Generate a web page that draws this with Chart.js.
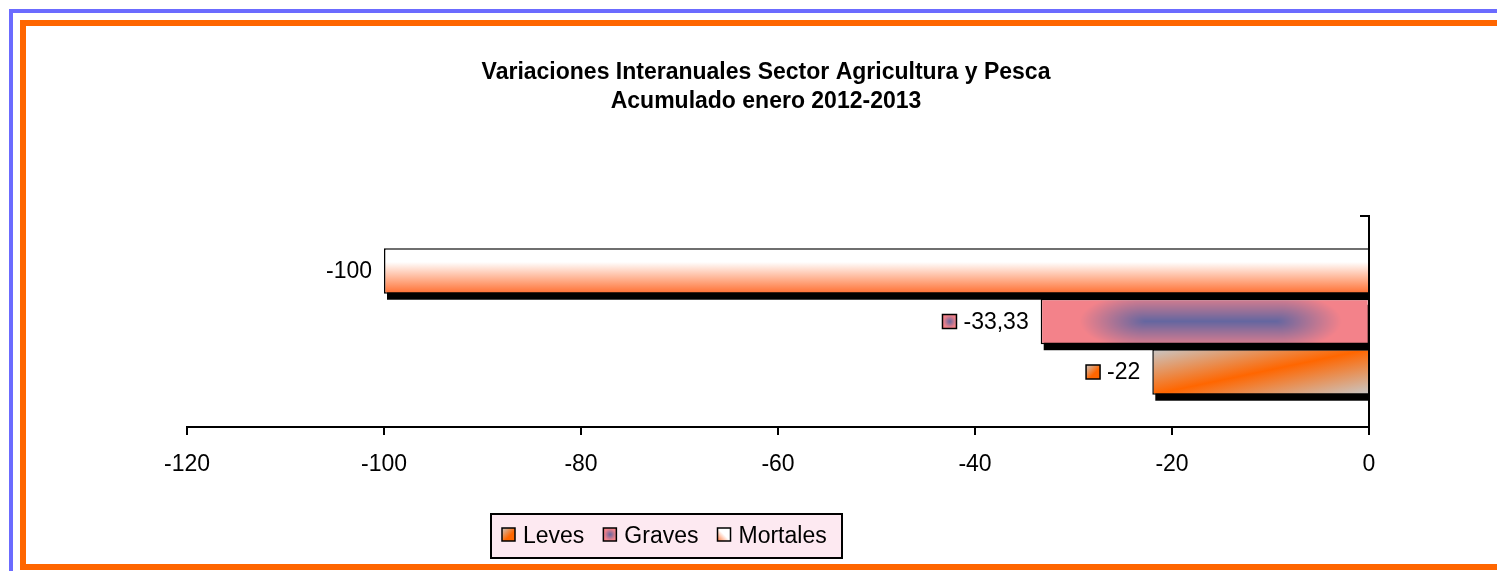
<!DOCTYPE html>
<html>
<head>
<meta charset="utf-8">
<script src="https://cdn.jsdelivr.net/npm/chart.js@4.4.1/dist/chart.umd.min.js"></script>
<style>
  html, body { margin: 0; padding: 0; background: #fff; width: 1497px; height: 571px; overflow: hidden; }
  #marcoAzul { position: absolute; left: 9px; top: 9px; width: 1700px; height: 800px; border: 4px solid #6b6bff; box-sizing: border-box; }
  #marcoNaranja { position: absolute; left: 20px; top: 20px; width: 1700px; height: 550px; border: 6px solid #ff6600; box-sizing: border-box; }
  #grafico { position: absolute; left: 0; top: 0; width: 1497px; height: 571px; }
</style>
</head>
<body>
<div id="marcoAzul"></div>
<div id="marcoNaranja"></div>
<canvas id="grafico" width="1497" height="571"></canvas>
<script>
// datos (de arriba a abajo)
const categorias = [''];
const series = ['Mortales', 'Graves', 'Leves'];
const valores = [-100, -33.33, -22];
const ticksX = [-120, -100, -80, -60, -40, -20, 0];
const tituloLineas = ['Variaciones Interanuales Sector Agricultura y Pesca', 'Acumulado enero 2012-2013'];

const fam = '"Liberation Sans", Arial, sans-serif';
const conClave = [false, true, true]; // la etiqueta de -100 sale sin clave

Chart.defaults.font.family = fam;
Chart.defaults.color = '#000';

const formato = v => String(v).replace('.', ',');

function caja(el) {
  const p = el.getProps(['x', 'y', 'base', 'height'], true);
  const left = Math.min(p.x, p.base);
  return { left, top: p.y - p.height / 2, w: Math.abs(p.base - p.x), h: p.height };
}

// mancha azul alargada sobre rosa
function manchaGraves(ctx, r, a, bx, by) {
  const w = Math.max(1, Math.round(r.w)), h = Math.max(1, Math.round(r.h));
  const off = document.createElement('canvas');
  off.width = w; off.height = h;
  const o = off.getContext('2d');
  const img = o.createImageData(w, h);
  const rosa = [243, 130, 138], azul = [100, 102, 160];
  const cx = w * 0.52, cy = h / 2;
  for (let y = 0; y < h; y++) {
    for (let x = 0; x < w; x++) {
      const dx = Math.max(0, Math.abs(x + 0.5 - cx) - a) / bx;
      const dy = (y + 0.5 - cy) / by;
      const t = Math.min(1, Math.sqrt(dx * dx + dy * dy));
      const k = (y * w + x) * 4;
      for (let c = 0; c < 3; c++) img.data[k + c] = azul[c] + (rosa[c] - azul[c]) * t;
      img.data[k + 3] = 255;
    }
  }
  o.putImageData(img, 0, 0);
  const pat = ctx.createPattern(off, 'no-repeat');
  pat.setTransform(new DOMMatrix().translate(r.left, r.top));
  return pat;
}

function relleno(ctx, i, r) {
  if (i === 0) {
    const g = ctx.createLinearGradient(0, r.top, 0, r.top + r.h);
    g.addColorStop(0, '#ffffff');
    g.addColorStop(0.3, '#ffffff');
    g.addColorStop(1, '#ff6e30');
    return g;
  }
  if (i === 1) return manchaGraves(ctx, r, r.w * 0.2, r.w * 0.2, r.h * 0.62);
  // diagonal gris-naranja-gris
  const L = Math.hypot(r.w, r.h), d = r.w * r.h / L;
  const ux = r.h / L, uy = r.w / L;
  const cx = r.left + r.w / 2, cy = r.top + r.h / 2;
  const g = ctx.createLinearGradient(cx - d * ux, cy - d * uy, cx + d * ux, cy + d * uy);
  g.addColorStop(0, '#c8c8c8');
  g.addColorStop(0.5, '#ff6600');
  g.addColorStop(1, '#c8c8c8');
  return g;
}

function clave(ctx, i, x, y, s) {
  ctx.save();
  let f;
  if (i === 0) {
    f = ctx.createLinearGradient(x, y + s, x + s, y);
    f.addColorStop(0, '#ff7a40'); f.addColorStop(0.5, '#ffffff'); f.addColorStop(1, '#ffffff');
  } else if (i === 1) {
    f = manchaGraves(ctx, { left: x, top: y, w: s, h: s }, 0, s * 0.45, s * 0.45);
  } else {
    f = ctx.createLinearGradient(x, y, x + s, y + s);
    f.addColorStop(0, '#c8c8c8'); f.addColorStop(0.6, '#ff6600'); f.addColorStop(1, '#ff6600');
  }
  ctx.fillStyle = f;
  ctx.fillRect(x, y, s, s);
  ctx.lineWidth = 1.5;
  ctx.strokeStyle = '#000';
  ctx.strokeRect(x, y, s, s);
  ctx.restore();
}

// sombra negra y rellenos degradados
const sombra = {
  id: 'sombra',
  beforeDatasetsDraw(chart) {
    const { ctx, chartArea: a } = chart;
    ctx.save();
    ctx.beginPath();
    ctx.rect(a.left, a.top, a.right - a.left, a.bottom - a.top);
    ctx.clip();
    ctx.fillStyle = '#000';
    chart.data.datasets.forEach((ds, i) => {
      chart.getDatasetMeta(i).data.forEach(el => {
        const r = caja(el);
        ctx.fillRect(r.left + 3, r.top + 6, r.w, r.h);
        el.options = Object.assign({}, el.options, { backgroundColor: relleno(ctx, i, r) });
      });
    });
    ctx.restore();
  }
};

const etiquetas = {
  id: 'etiquetas',
  afterDatasetsDraw(chart) {
    const ctx = chart.ctx;
    chart.data.datasets.forEach((ds, i) => {
      chart.getDatasetMeta(i).data.forEach((el, j) => {
        const r = caja(el);
        const txt = formato(ds.data[j]);
        const xr = r.left - 12;
        ctx.save();
        ctx.font = '23px ' + fam;
        ctx.textAlign = 'right';
        ctx.textBaseline = 'middle';
        ctx.fillStyle = '#000';
        ctx.fillText(txt, xr, el.y + 1);
        const tw = ctx.measureText(txt).width;
        ctx.restore();
        if (conClave[i]) clave(ctx, i, xr - tw - 7 - 14, el.y - 7, 14);
      });
    });
  }
};

const titulo = {
  id: 'titulo',
  afterDraw(chart) {
    const ctx = chart.ctx;
    ctx.save();
    ctx.font = 'bold 23px ' + fam;
    ctx.textAlign = 'center';
    ctx.textBaseline = 'middle';
    ctx.fillStyle = '#000';
    tituloLineas.forEach((t, i) => ctx.fillText(t, 766, 73 + i * 29));
    ctx.restore();
  }
};

const leyenda = {
  id: 'leyenda',
  afterDraw(chart) {
    const ctx = chart.ctx;
    const bx = 491, by = 514, bw = 351, bh = 44;
    ctx.save();
    ctx.fillStyle = '#fde9f1';
    ctx.fillRect(bx, by, bw, bh);
    ctx.lineWidth = 2;
    ctx.strokeStyle = '#000';
    ctx.strokeRect(bx, by, bw, bh);
    ctx.font = '23px ' + fam;
    ctx.textBaseline = 'middle';
    ctx.textAlign = 'left';
    let x = 502;
    const cy = by + bh / 2;
    series.map((s, i) => i).reverse().forEach(i => {
      clave(ctx, i, x, cy - 8, 13);
      x += 13 + 8;
      ctx.fillStyle = '#000';
      ctx.fillText(series[i], x, cy + 1);
      x += ctx.measureText(series[i]).width + 19;
    });
    ctx.restore();
  }
};

new Chart(document.getElementById('grafico'), {
  type: 'bar',
  data: {
    labels: categorias,
    datasets: series.map((s, i) => ({
      label: s,
      data: [valores[i]],
      backgroundColor: '#ffffff',
      borderColor: '#000',
      borderWidth: 1.5,
      borderSkipped: 'start',
      categoryPercentage: 0.718,
      barPercentage: 0.9
    }))
  },
  options: {
    indexAxis: 'y',
    responsive: false,
    animation: false,
    events: [],
    layout: { padding: { left: 187, right: 128, top: 216, bottom: 84 } },
    plugins: { legend: { display: false }, title: { display: false }, tooltip: { enabled: false } },
    scales: {
      x: {
        type: 'linear',
        min: ticksX[0],
        max: ticksX[ticksX.length - 1],
        afterBuildTicks: s => { s.ticks = ticksX.map(v => ({ value: v })); },
        afterFit: s => { s.height = 60; },
        grid: { drawOnChartArea: false, drawTicks: true, tickLength: 8, tickColor: '#000', lineWidth: 2 },
        border: { display: true, color: '#000', width: 2, z: 1 },
        ticks: { font: { size: 23 }, color: '#000', padding: 16, callback: v => String(v) }
      },
      y: {
        type: 'category',
        position: { x: 0 },
        offset: true,
        grid: { drawOnChartArea: false, drawTicks: true, tickLength: 8, tickColor: '#000', lineWidth: 2, offset: true },
        border: { display: true, color: '#000', width: 2, z: 1 },
        ticks: { display: false }
      }
    }
  },
  plugins: [sombra, etiquetas, titulo, leyenda]
});
</script>
</body>
</html>
